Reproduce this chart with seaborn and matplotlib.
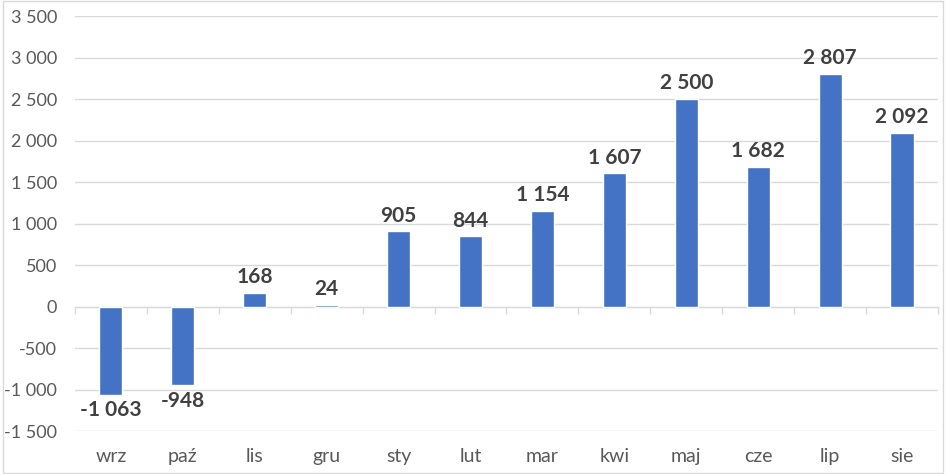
import matplotlib
matplotlib.use('Agg')
import matplotlib.pyplot as plt
import seaborn as sns
import pandas as pd
from matplotlib.ticker import FuncFormatter, MultipleLocator
from matplotlib.patches import Rectangle

# --- Data ---
months = ['wrz', 'paź', 'lis', 'gru', 'sty', 'lut', 'mar', 'kwi', 'maj', 'cze', 'lip', 'sie']
values = [-1063, -948, 168, 24, 905, 844, 1154, 1607, 2500, 1682, 2807, 2092]

y_min, y_max = -1500, 3500

df = pd.DataFrame({'month': months, 'value': values})

def fmt_space(v, pos=None):
    return f"{v:,.0f}".replace(",", " ")

sns.set_style('white')
plt.rcParams['font.family'] = ['Lato', 'DejaVu Sans']

fig = plt.figure(figsize=(9.46, 4.74), dpi=100)
ax = fig.add_axes([0.0793, 0.0907, 0.9122, 0.8755])

sns.barplot(data=df, x='month', y='value', color='#4472C4', width=0.32,
            saturation=1, ax=ax, zorder=3)

ax.set_ylim(y_min, y_max)
ax.set_xlim(-0.5, len(months) - 0.5)
ax.yaxis.set_major_locator(MultipleLocator(500))
ax.yaxis.set_major_formatter(FuncFormatter(fmt_space))
ax.grid(axis='y', color='#D9D9D9', linewidth=1, zorder=0)
ax.grid(axis='x', visible=False)
for s in ax.spines.values():
    s.set_visible(False)

ax.set_xlabel('')
ax.set_ylabel('')
ax.tick_params(axis='y', length=0, pad=13, labelsize=13, labelcolor='#595959')
ax.tick_params(axis='x', length=0, pad=12, labelsize=14, labelcolor='#595959')

# zero axis with category tick marks
zero_pos = (0 - y_min) / (y_max - y_min)
sec = ax.secondary_xaxis(zero_pos)
sec.set_xticks([i - 0.5 for i in range(len(months) + 1)])
sec.set_xticklabels([])
sec.tick_params(axis='x', direction='out', length=5, color='#D9D9D9', width=1)
sec.spines['bottom'].set_color('#D9D9D9')
for k in ['top', 'left', 'right']:
    sec.spines[k].set_visible(False)

ax.bar_label(ax.containers[0], labels=[fmt_space(v) for v in values],
             padding=4, fontsize=15, fontweight='bold', color='#404040')

# outer chart border
fig.patches.append(Rectangle((0.003, 0.002), 0.994, 0.996, transform=fig.transFigure,
                             fill=False, edgecolor='#D9D9D9', linewidth=1))

fig.savefig('out.png', dpi=100)
